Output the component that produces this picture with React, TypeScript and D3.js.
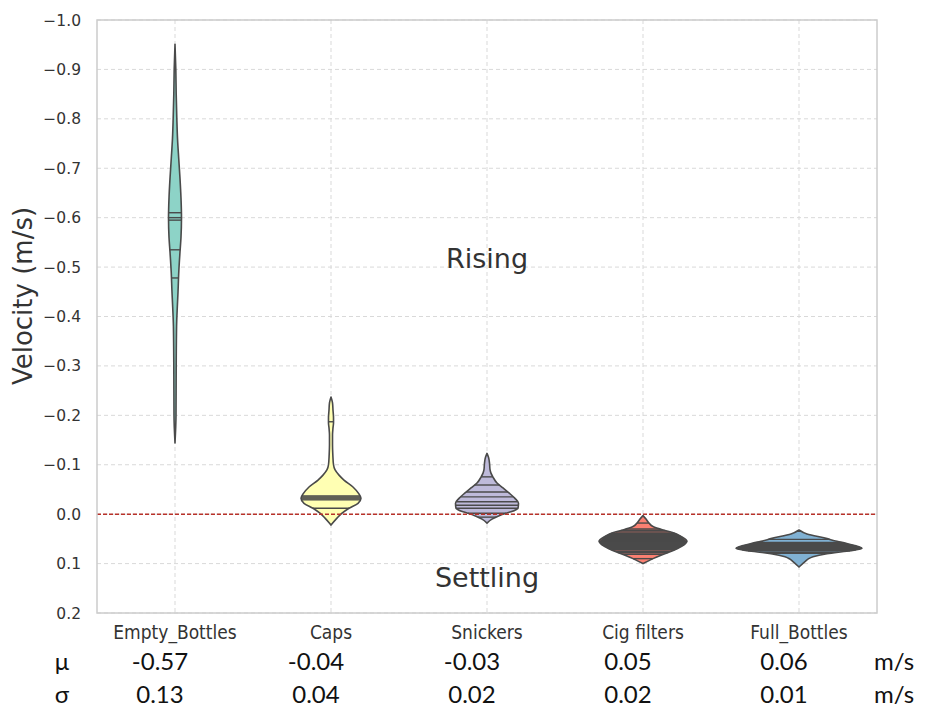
import React from "react";
import * as d3 from "d3";

// ---- data ----
const categories = ["Empty_Bottles", "Caps", "Snickers", "Cig filters", "Full_Bottles"];
const meanLabels = ["-0.57", "-0.04", "-0.03", "0.05", "0.06"];
const sdLabels = ["0.13", "0.04", "0.02", "0.02", "0.01"];
const yTicks = [-1.0, -0.9, -0.8, -0.7, -0.6, -0.5, -0.4, -0.3, -0.2, -0.1, 0.0, 0.1, 0.2];

// violin profiles: velocity level -> relative density (half width)
const emptyLevels = [-0.951, -0.9, -0.85, -0.8, -0.76, -0.72, -0.68, -0.64, -0.6, -0.56, -0.53, -0.49, -0.45, -0.42, -0.38, -0.3, -0.2, -0.144];
const emptyDensity = [0, 0.013, 0.019, 0.029, 0.04, 0.059, 0.079, 0.095, 0.103, 0.095, 0.079, 0.06, 0.048, 0.037, 0.025, 0.019, 0.016, 0];
const emptySticks = [-0.61, -0.6, -0.595, -0.535, -0.478];

const capsLevels = [-0.237, -0.225, -0.21, -0.195, -0.185, -0.175, -0.16, -0.14, -0.12, -0.1, -0.09, -0.079, -0.069, -0.055, -0.042, -0.032, -0.022, -0.012, -0.002, 0.008, 0.022];
const capsDensity = [0, 0.024, 0.032, 0.04, 0.04, 0.032, 0.024, 0.024, 0.029, 0.04, 0.063, 0.127, 0.206, 0.349, 0.437, 0.476, 0.429, 0.286, 0.175, 0.095, 0];
const capsSticks = [-0.187, -0.037, -0.035, -0.033, -0.031, -0.029, -0.012];

const snickersLevels = [-0.123, -0.115, -0.103, -0.09, -0.083, -0.075, -0.063, -0.053, -0.043, -0.032, -0.022, -0.012, -0.005, -0.002, 0.004, 0.01, 0.018];
const snickersDensity = [0, 0.024, 0.04, 0.048, 0.063, 0.095, 0.159, 0.254, 0.349, 0.444, 0.5, 0.492, 0.381, 0.302, 0.175, 0.079, 0];
const snickersSticks = [-0.0755, -0.059, -0.045, -0.035, -0.025, -0.018, -0.012, -0.002, 0.006];

const cigLevels = [0.003, 0.01, 0.018, 0.025, 0.032, 0.038, 0.045, 0.055, 0.062, 0.069, 0.076, 0.083, 0.09, 0.095, 0.1];
const cigDensity = [0, 0.048, 0.095, 0.159, 0.317, 0.492, 0.603, 0.698, 0.651, 0.556, 0.429, 0.286, 0.159, 0.079, 0];
const cigSticks = [0.018, 0.03, 0.033, 0.036, 0.039, 0.041, 0.043, 0.045, 0.047, 0.049, 0.051, 0.053, 0.055, 0.057, 0.059, 0.061, 0.063, 0.065, 0.067, 0.069, 0.072, 0.075, 0.078, 0.081, 0.09];

const fullLevels = [0.032, 0.04, 0.049, 0.055, 0.059, 0.064, 0.069, 0.073, 0.076, 0.08, 0.086, 0.091, 0.096, 0.107];
const fullDensity = [0, 0.127, 0.429, 0.603, 0.746, 0.905, 1, 0.873, 0.683, 0.444, 0.222, 0.143, 0.095, 0];
const fullSticks = [0.051, 0.057, 0.06, 0.062, 0.064, 0.066, 0.067, 0.068, 0.069, 0.07, 0.071, 0.072, 0.074, 0.077, 0.079];

const violins = [
  { levels: emptyLevels, density: emptyDensity, sticks: emptySticks },
  { levels: capsLevels, density: capsDensity, sticks: capsSticks },
  { levels: snickersLevels, density: snickersDensity, sticks: snickersSticks },
  { levels: cigLevels, density: cigDensity, sticks: cigSticks },
  { levels: fullLevels, density: fullDensity, sticks: fullSticks },
];

const W = 925;
const H = 725;
const plot = { left: 97, right: 877, top: 20, bottom: 613 };

export default function App() {
  const x = d3.scaleBand<string>().domain(categories).range([plot.left, plot.right]).padding(0);
  const y = d3.scaleLinear().domain([-1.0, 0.2]).range([plot.top, plot.bottom]);
  const w = d3.scaleLinear().domain([0, 1]).range([0, 63]);
  const color = d3.scaleOrdinal<string, string>().domain(categories).range(d3.schemeSet3);
  const fmt = d3.format(".1f");
  const cx = (c: string) => (x(c) as number) + x.bandwidth() / 2;

  const dv = "'DejaVu Sans', sans-serif";
  const dvc = "'DejaVu Sans Condensed', 'DejaVu Sans', sans-serif";
  const calib = "Lato, 'Open Sans', sans-serif";

  return (
    <svg width={W} height={H} style={{ position: "absolute", left: 0, top: 0, background: "#fff" }}>
      {/* grid */}
      {yTicks.map((t) => (
        <line key={"gy" + t} x1={plot.left} x2={plot.right} y1={y(t)} y2={y(t)} stroke="#d9d9d9" strokeWidth={1} strokeDasharray="4,3" />
      ))}
      {categories.map((c) => (
        <line key={"gx" + c} x1={cx(c)} x2={cx(c)} y1={plot.top} y2={plot.bottom} stroke="#d9d9d9" strokeWidth={1} strokeDasharray="4,3" />
      ))}

      {/* violins */}
      {categories.map((c, i) => {
        const v = violins[i];
        const cxx = cx(c);
        const pts = v.levels.map((l, k) => ({ l, d: v.density[k] }));
        const area = d3
          .area<{ l: number; d: number }>()
          .y((p) => y(p.l))
          .x0((p) => cxx - w(p.d))
          .x1((p) => cxx + w(p.d))
          .curve(d3.curveMonotoneY);
        const interp = d3.scaleLinear().domain(v.levels).range(v.density).clamp(true);
        return (
          <g key={"v" + c}>
            <path d={area(pts) || ""} fill={color(c)} stroke="#4a4a4a" strokeWidth={1.6} strokeLinejoin="round" />
            {v.sticks.map((s, k) => (
              <line key={k} x1={cxx - w(interp(s))} x2={cxx + w(interp(s))} y1={y(s)} y2={y(s)} stroke="#4a4a4a" strokeWidth={1.4} />
            ))}
          </g>
        );
      })}

      {/* zero line */}
      <line x1={plot.left} x2={plot.right} y1={y(0)} y2={y(0)} stroke="#b8322a" strokeWidth={1.5} strokeDasharray="4,2" />

      {/* frame */}
      <rect x={plot.left} y={plot.top} width={plot.right - plot.left} height={plot.bottom - plot.top} fill="none" stroke="#cccccc" strokeWidth={1.5} />

      {/* y tick labels */}
      {yTicks.map((t) => (
        <text key={"yt" + t} x={81} y={y(t)} dy="0.36em" textAnchor="end" fontFamily={dv} fontSize={15.5} fill="#333">
          {fmt(t)}
        </text>
      ))}
      <text transform={`translate(32,296) rotate(-90)`} textAnchor="middle" fontFamily={dv} fontSize={26} fill="#333">
        Velocity (m/s)
      </text>

      {/* category labels */}
      {categories.map((c) => (
        <text key={"xl" + c} x={cx(c)} y={639} textAnchor="middle" fontFamily={dvc} fontSize={19} fill="#333">
          {c}
        </text>
      ))}

      {/* annotations */}
      <text x={cx("Snickers")} y={268} textAnchor="middle" fontFamily={dv} fontSize={27} fill="#333">Rising</text>
      <text x={cx("Snickers")} y={587} textAnchor="middle" fontFamily={dv} fontSize={27} fill="#333">Settling</text>

      {/* stats rows */}
      <text x={62} y={670} textAnchor="middle" fontFamily={calib} fontSize={24} fill="#111">μ</text>
      <text x={62} y={703} textAnchor="middle" fontFamily={calib} fontSize={24} fill="#111">σ</text>
      {categories.map((c, i) => (
        <g key={"st" + c}>
          <text x={cx(c) - 15} y={670} textAnchor="middle" fontFamily={calib} fontSize={24} fill="#111">{meanLabels[i]}</text>
          <text x={cx(c) - 15} y={703} textAnchor="middle" fontFamily={calib} fontSize={24} fill="#111">{sdLabels[i]}</text>
        </g>
      ))}
      <text x={894} y={670} textAnchor="middle" fontFamily={calib} fontSize={24} fill="#111">m/s</text>
      <text x={894} y={703} textAnchor="middle" fontFamily={calib} fontSize={24} fill="#111">m/s</text>
    </svg>
  );
}
